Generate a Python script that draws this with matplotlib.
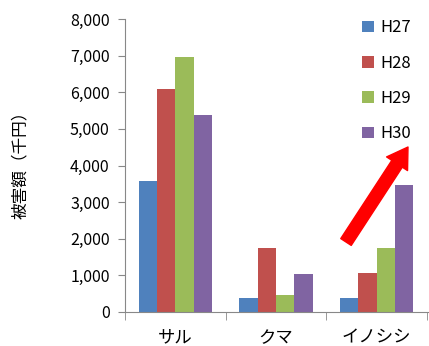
import matplotlib.pyplot as plt
import numpy as np

plt.rcParams['font.family'] = ['Noto Sans CJK JP', 'DejaVu Sans']

categories = ["サル", "クマ", "イノシシ"]
years = ["H27", "H28", "H29", "H30"]
h27 = [3570, 380, 380]
h28 = [6100, 1750, 1060]
h29 = [6960, 470, 1750]
h30 = [5380, 1040, 3460]
colors = ["#4F81BD", "#C0504D", "#9BBB59", "#8064A2"]

fig = plt.figure(figsize=(4.29, 3.46), dpi=100)
ax = fig.add_axes([125 / 429, 1 - 312 / 346, 1 - 125 / 429, (312 - 19) / 346])

x = np.arange(len(categories))
w = 0.182
for i, (vals, c) in enumerate(zip([h27, h28, h29, h30], colors)):
    ax.bar(x + (i - 1.5) * w, vals, w, color=c, label=years[i])

ax.set_xlim(-0.5, 2.52)
ax.set_ylim(0, 8000)
ax.set_yticks(range(0, 8001, 1000))
ax.set_yticklabels([f"{v:,}" for v in range(0, 8001, 1000)])
ax.set_xticks(x)
ax.set_xticklabels(categories, fontsize=12.5)
ax.set_xticks([-0.5, 0.5, 1.5, 2.5], minor=True)
ax.tick_params(axis='x', which='major', length=0, pad=12)
ax.tick_params(axis='x', which='minor', length=6, color='#888888', direction='out')
ax.tick_params(axis='y', length=5, color='#888888', labelsize=11.5, pad=6)

for s in ["top", "right"]:
    ax.spines[s].set_visible(False)
for s in ["left", "bottom"]:
    ax.spines[s].set_color("#888888")

fig.text(20 / 429, 1 - 161 / 346, "被害額（千円）", rotation=90, fontsize=12,
         ha="center", va="center")

ax.legend(loc="upper left", bbox_to_anchor=(0.73, 1.05), frameon=False,
          fontsize=12, handlelength=0.7, handleheight=0.7, handletextpad=0.4,
          labelspacing=1.1)

ax.annotate("", xy=(408 / 429, 1 - 147 / 346), xytext=(346 / 429, 1 - 242 / 346),
            xycoords="figure fraction", textcoords="figure fraction",
            arrowprops=dict(arrowstyle="simple, head_width=1.0, head_length=0.8, tail_width=0.5",
                            color="red", mutation_scale=18, shrinkA=0, shrinkB=0))

fig.savefig("out.png", dpi=100)
